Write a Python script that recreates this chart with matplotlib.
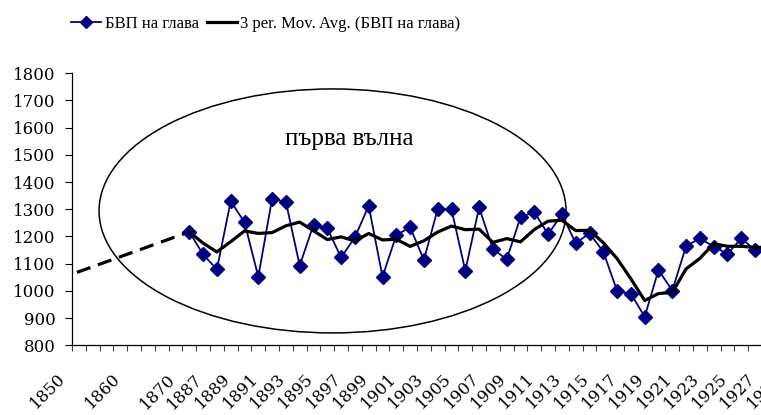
import numpy as np
import pandas as pd
import matplotlib
matplotlib.use('Agg')
import matplotlib.pyplot as plt
from matplotlib.patches import Ellipse
from matplotlib.transforms import offset_copy

# GDP per capita, 1887-1929
years = list(range(1887, 1930))
gdp = [1217, 1134, 1079, 1330, 1252, 1052, 1339, 1327, 1093, 1243,
       1230, 1123, 1197, 1313, 1052, 1205, 1234, 1114, 1301, 1300,
       1074, 1307, 1154, 1116, 1271, 1290, 1208, 1282, 1175, 1212,
       1144, 1000, 989, 905, 1077, 1001, 1165, 1193, 1163, 1136,
       1193, 1150, 1140]

# empty categories in front of 1887 (the extrapolated part)
n_lead = 8
early_labels = ['1850', '1860', '1870']
early_pos = [-2, 2, 6]
# dashed extrapolation back to 1850
extrap_start = 1068

series_label = 'БВП на глава'
ma_label = '3 per. Mov. Avg. (БВП на глава)'
wave_label = 'първа вълна'

navy = '#000080'
plt.rcParams['font.family'] = ['DejaVu Serif']
legend_font = ['Liberation Serif', 'DejaVu Serif']

fig = plt.figure(figsize=(7.61, 4.15), dpi=100)
ax = fig.add_axes([72 / 761, 69.7 / 415, 703.8 / 761, 272 / 415])

x = np.arange(len(years)) + n_lead
ma = pd.Series(gdp).rolling(3, min_periods=1).mean().values

ax.plot(x, gdp, color=navy, lw=1.3, marker='D', ms=7.5, mfc=navy, mec=navy,
        label=series_label, zorder=3)
ax.plot(x, ma, color='black', lw=2.3, label=ma_label, zorder=4)
ax.plot([-0.15, x[0]], [extrap_start, gdp[0]], color='black', lw=2.3,
        ls=(0, (4.5, 2.5)), zorder=2)

ax.add_patch(Ellipse((18.38, 1294), 33.84, 897, fill=False, ec='black',
                     lw=1.1, clip_on=False))
ax.text(19.6, 1537, wave_label, ha='center', va='baseline', fontsize=18,
        family=legend_font)

ax.set_xlim(-0.5, len(years) + n_lead - 0.5)
ax.set_ylim(800, 1800)
ax.set_yticks(range(800, 1801, 100))
ax.tick_params(axis='y', direction='out', length=5, width=0.8, pad=7,
               labelsize=12)

ax.set_xticks(np.arange(-0.5, len(years) + n_lead, 1), minor=True)
ax.set_xticks([])
ax.tick_params(axis='x', which='minor', direction='out', length=4, width=0.8,
               color='#444444')

for s in ['top', 'right']:
    ax.spines[s].set_visible(False)
for s in ['left', 'bottom']:
    ax.spines[s].set_linewidth(0.9)

lab_tr = offset_copy(ax.get_xaxis_transform(), fig=fig, x=17, y=-25,
                     units='dots')
tick_pos = early_pos + list(x[::2])
tick_txt = early_labels + [str(y) for y in years[::2]]
for p, t in zip(tick_pos, tick_txt):
    ax.text(p, 0, t, transform=lab_tr, rotation=45, ha='right', va='top',
            fontsize=12, clip_on=False)

fig.legend(loc='center', bbox_to_anchor=(266 / 761, 1 - 24 / 415), ncol=2,
           frameon=False, prop={'family': legend_font, 'size': 12},
           handlelength=1.8, handletextpad=0.2, columnspacing=0.5,
           markerscale=0.8)

fig.savefig('out.png', dpi=100)
